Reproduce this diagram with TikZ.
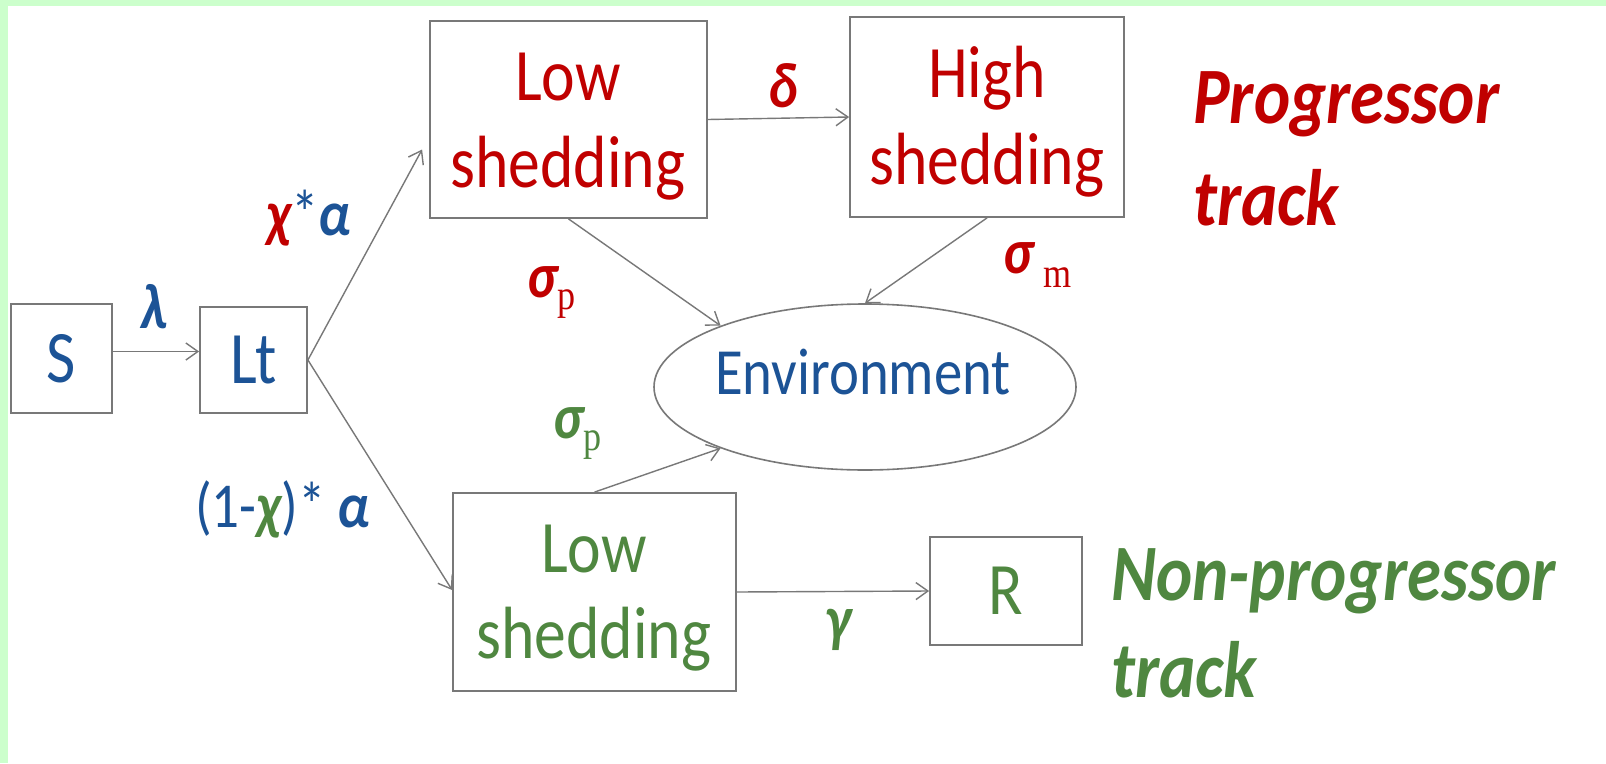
\documentclass[tikz,border=0pt]{standalone}
\usepackage{fontspec}
\setmainfont{Carlito}[FakeStretch=0.86]
\newfontfamily\tnr{Liberation Serif}[FakeStretch=0.86]
\usetikzlibrary{arrows.meta,shapes.geometric}
\definecolor{frameGreen}{RGB}{204,255,204}
\definecolor{tRed}{RGB}{192,0,0}
\definecolor{tBlue}{RGB}{28,83,150}
\definecolor{tGreen}{RGB}{79,135,64}
\definecolor{edge}{RGB}{120,120,120}
\newcommand{\subtxt}[1]{{\tnr\mdseries\upshape\fontsize{42}{42}\selectfont #1}}
\begin{document}
\begin{tikzpicture}[x=1pt,y=-1pt,
  cell/.style={draw=edge, line width=1.8pt, inner sep=0pt, font=\fontsize{74}{87}\selectfont},
  stagetxt/.style={font=\fontsize{74}{87}\selectfont, inner sep=0pt, anchor=base},
  rate/.style={font=\bfseries\itshape\fontsize{64}{70}\selectfont, inner sep=0pt},
  tracktxt/.style={font=\bfseries\itshape\fontsize{80}{100}\selectfont, inner sep=0pt, anchor=base west},
  flow/.style={draw=edge, line width=1.4pt, -{Straight Barb[length=12pt,width=17pt]}}]

% page and frame
\useasboundingbox (0,0) rectangle (1606,763);
\fill[white] (0,0) rectangle (1606,763);
\fill[frameGreen] (0,0) rectangle (1606,6);
\fill[frameGreen] (0,0) rectangle (8,763);

% compartments
\node[cell, text=tBlue, minimum width=101pt, minimum height=109pt] (S) at (61.5,358.5) {S};
\node[cell, text=tBlue, minimum width=107pt, minimum height=106pt] (Lt) at (253.5,360) {Lt};
\node[cell, minimum width=277pt, minimum height=197pt] (lowP) at (568.5,119.5) {};
\node[cell, minimum width=274pt, minimum height=200pt] (high) at (987,117) {};
\node[cell, minimum width=283pt, minimum height=198pt] (lowN) at (594.5,592) {};
\node[cell, text=tGreen, minimum width=152pt, minimum height=108pt] (R) at (1006,591) {R};
\node[draw=edge, line width=1.6pt, ellipse, inner sep=0pt,
      minimum width=422pt, minimum height=166pt] (env) at (865,387) {};

% compartment texts
\node[stagetxt, text=tRed] (lowPa) at (568,100) {Low};
\node[stagetxt, text=tRed] (lowPb) at (568,187) {shedding};
\node[stagetxt, text=tRed] (higha) at (987,97) {High};
\node[stagetxt, text=tRed] (highb) at (987,184) {shedding};
\node[stagetxt, text=tGreen] (lowNa) at (594,572) {Low};
\node[stagetxt, text=tGreen] (lowNb) at (594,658) {shedding};
\node[text=tBlue, inner sep=0pt, font=\fontsize{66}{70}\selectfont] (envtxt) at (863,372) {Environment};

% flows
\draw[flow] ([yshift=7pt]S.east) -- ([yshift=7pt]S.east -| Lt.west);
\draw[flow] (Lt.east) -- ([xshift=-7pt,yshift=-30pt]lowP.west);
\draw[flow] (Lt.east) -- ([yshift=2pt]lowN.west);
\draw[flow] (lowP.east) -- (high.west);
\draw[flow] (lowP.south) -- (env.157);
\draw[flow] (high.south) -- (env.north);
\draw[flow] (lowN.north) -- (env.203);
\draw[flow] (lowN.east) -- (R.west);

% rates
\node[rate, text=tBlue, anchor=base] (lam) at (154,328) {λ};
\node[rate, anchor=base west] (chiA) at (266,235)
  {\textcolor{tRed}{χ}\textcolor{tBlue}{\mdseries\upshape *}\textcolor{tBlue}{α}};
\node[rate, anchor=base west] (chiB) at (195,527)
  {\textcolor{tBlue}{\mdseries\upshape (1-}\textcolor{tGreen}{χ}\textcolor{tBlue}{\mdseries\upshape )* }\textcolor{tBlue}{α}};
\node[rate, text=tRed, anchor=base] (del) at (783,107) {δ};
\node[rate, text=tRed, anchor=base west] (sigP) at (527,297) {σ\raisebox{-12pt}{\subtxt{p}}};
\node[rate, text=tRed, anchor=base west] (sigM) at (1003,273) {σ\,\raisebox{-14pt}{\subtxt{m}}};
\node[rate, text=tGreen, anchor=base west] (sigN) at (553,438) {σ\raisebox{-12pt}{\subtxt{p}}};
\node[rate, text=tGreen, anchor=base] (gam) at (838,640) {γ};

% track names
\node[tracktxt, text=tRed] (prog1) at (1193,123) {Progressor};
\node[tracktxt, text=tRed] (prog2) at (1193,225) {track};
\node[tracktxt, text=tGreen] (non1) at (1111,600) {Non-progressor};
\node[tracktxt, text=tGreen] (non2) at (1111,697) {track};
\end{tikzpicture}
\end{document}
